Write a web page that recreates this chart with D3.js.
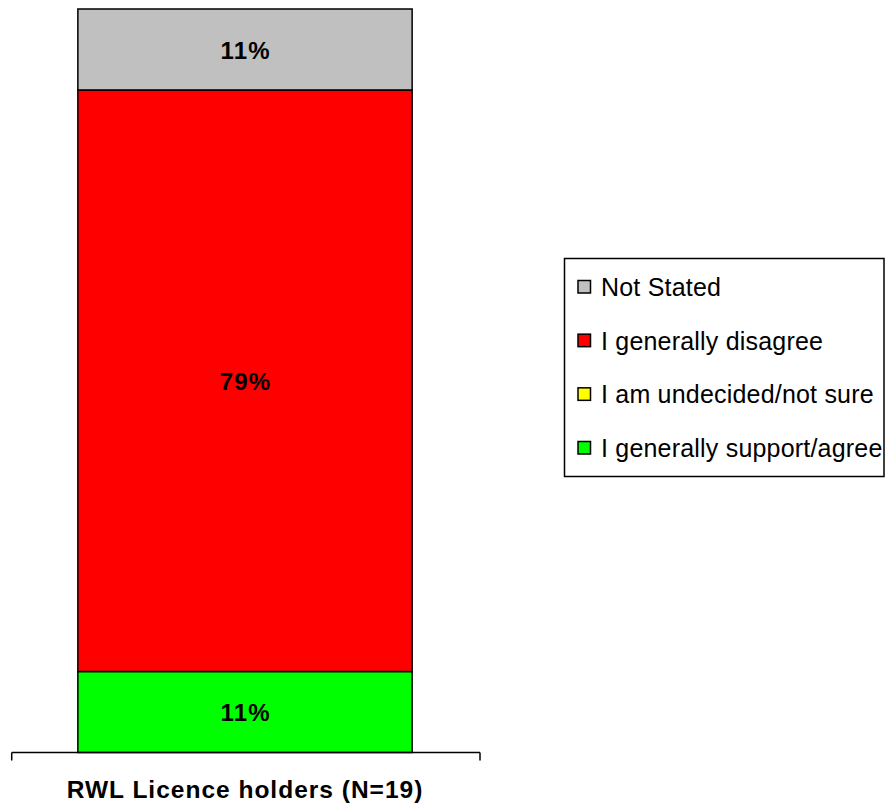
<!DOCTYPE html>
<html>
<head>
<meta charset="utf-8">
<script src="https://cdn.jsdelivr.net/npm/d3@7"></script>
<style>
  html, body { margin: 0; padding: 0; background: #fff; }
  svg { display: block; font-family: Arial, "Liberation Sans", sans-serif; }
</style>
</head>
<body>
<svg id="chart" width="888" height="806"></svg>
<script>
// ---- data ----
const categories = ["RWL Licence holders (N=19)"];
const seriesNames = ["I generally support/agree", "I am undecided/not sure", "I generally disagree", "Not Stated"];
const seriesColors = ["#00FF00", "#FFFF00", "#FF0000", "#C0C0C0"];
const supportValues = [11];
const undecidedValues = [0];
const disagreeValues = [79];
const notStatedValues = [11];
const legendOrder = ["Not Stated", "I generally disagree", "I am undecided/not sure", "I generally support/agree"];

// ---- build table ----
const table = categories.map((c, i) => ({
  category: c,
  "I generally support/agree": supportValues[i],
  "I am undecided/not sure": undecidedValues[i],
  "I generally disagree": disagreeValues[i],
  "Not Stated": notStatedValues[i]
}));
const stack = d3.stack().keys(seriesNames)(table);
const total = d3.max(table, d => d3.sum(seriesNames, k => d[k]));

const svg = d3.select("#chart");
const color = d3.scaleOrdinal().domain(seriesNames).range(seriesColors);

const x = d3.scaleBand().domain(categories).range([11, 479]).paddingInner(0).paddingOuter(0.2);
const y = d3.scaleLinear().domain([0, total]).range([752.5, 9]);

// bars
const layers = svg.append("g").selectAll("g").data(stack).join("g")
  .attr("fill", d => color(d.key));
layers.selectAll("rect").data(d => d.filter(s => s[1] - s[0] > 0)).join("rect")
  .attr("x", d => x(d.data.category))
  .attr("width", x.bandwidth())
  .attr("y", d => y(d[1]))
  .attr("height", d => y(d[0]) - y(d[1]))
  .attr("stroke", "#000")
  .attr("stroke-width", 1.5);

// value labels
layers.selectAll("text").data(d => d.filter(s => s[1] - s[0] > 0)).join("text")
  .attr("x", d => x(d.data.category) + x.bandwidth() / 2 + 0.6)
  .attr("y", d => (y(d[0]) + y(d[1])) / 2 + 1)
  .attr("dy", "0.35em")
  .attr("text-anchor", "middle")
  .attr("font-weight", "bold")
  .attr("font-size", 24)
  .attr("letter-spacing", 1.2)
  .attr("fill", "#000")
  .text(d => Math.round(d[1] - d[0]) + "%");

// x axis with ticks at band edges
const axisG = svg.append("g");
const baseX0 = 11.7, baseX1 = 480;
axisG.append("line")
  .attr("x1", baseX0).attr("x2", baseX1)
  .attr("y1", y(0)).attr("y2", y(0))
  .attr("stroke", "#000").attr("stroke-width", 1.5);
axisG.selectAll("line.tick").data([baseX0, baseX1]).join("line")
  .attr("class", "tick")
  .attr("x1", d => d).attr("x2", d => d)
  .attr("y1", y(0)).attr("y2", y(0) + 8)
  .attr("stroke", "#000").attr("stroke-width", 1.5);
axisG.selectAll("text").data(categories).join("text")
  .attr("x", d => x(d) + x.bandwidth() / 2)
  .attr("y", 797.5)
  .attr("text-anchor", "middle")
  .attr("font-weight", "bold")
  .attr("font-size", 24.5)
  .attr("letter-spacing", 1)
  .attr("fill", "#000")
  .text(d => d);

// legend
const legend = svg.append("g");
legend.append("rect")
  .attr("x", 564.5).attr("y", 258.5)
  .attr("width", 319.5).attr("height", 218)
  .attr("fill", "#fff").attr("stroke", "#000").attr("stroke-width", 1.5);
const rowY = d3.scalePoint().domain(legendOrder).range([296, 457]);
const items = legend.selectAll("g.item").data(legendOrder).join("g").attr("class", "item");
items.append("rect")
  .attr("x", 578).attr("y", d => rowY(d) - 15.5)
  .attr("width", 12.5).attr("height", 12.5)
  .attr("fill", d => color(d))
  .attr("stroke", "#000").attr("stroke-width", 1.5);
items.append("text")
  .attr("x", 601).attr("y", d => rowY(d))
  .attr("font-size", 25)
  .attr("letter-spacing", 0.2)
  .attr("fill", "#000")
  .text(d => d);
</script>
</body>
</html>
